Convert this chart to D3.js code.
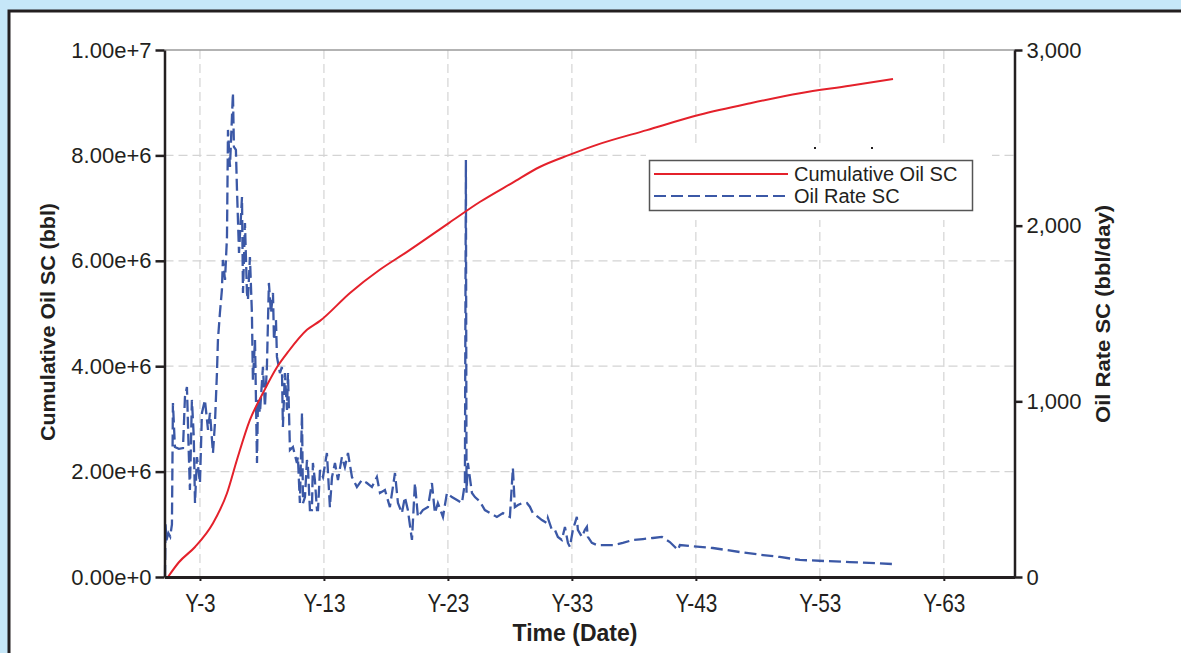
<!DOCTYPE html>
<html><head><meta charset="utf-8">
<script src="https://cdn.jsdelivr.net/npm/d3@7"></script>
<style>
html,body{margin:0;padding:0;background:#c6e7f8;}
svg{display:block;font-family:"Liberation Sans",Arial,Helvetica,sans-serif;}
</style></head>
<body>
<svg id="chart" width="1181" height="653"></svg>
<script>
// ---- data ----
const xTickYears = [3, 13, 23, 33, 43, 53, 63];
const leftTicks = [0, 2e6, 4e6, 6e6, 8e6, 1e7];
const rightTicks = [0, 1000, 2000, 3000];
const seriesNames = ["Cumulative Oil SC", "Oil Rate SC"];

const cumYears  = [0.42, 1.3, 2.6, 4.05, 5.18, 5.98, 7.03, 8.08, 9.21, 10.1, 11.63, 12.68, 15.1, 17.5, 19.7, 23.1, 25.6, 28.2, 30.4, 32.8, 35.0, 39.05, 43.3, 47.4, 51.4, 55.4, 58.9];
const cumValues = [0, 0.28e6, 0.57e6, 1.02e6, 1.59e6, 2.22e6, 2.98e6, 3.49e6, 3.98e6, 4.27e6, 4.69e6, 4.86e6, 5.39e6, 5.83e6, 6.17e6, 6.72e6, 7.12e6, 7.48e6, 7.78e6, 8.01e6, 8.20e6, 8.48e6, 8.77e6, 8.99e6, 9.18e6, 9.32e6, 9.45e6];

const rateYears = [0.18,0.22,0.30,0.45,0.60,0.74,0.82,0.98,1.3,1.63,1.79,1.95,2.1,2.19,2.35,2.5,2.60,2.76,3.00,3.16,3.40,3.65,3.81,4.05,4.21,4.37,4.45,4.61,4.77,4.85,5.02,5.18,5.26,5.42,5.58,5.66,5.74,5.90,5.98,6.15,6.39,6.47,6.63,6.79,6.87,7.03,7.19,7.27,7.44,7.60,7.68,7.84,8.08,8.24,8.40,8.56,8.73,8.89,8.97,9.13,9.21,9.45,9.61,9.69,9.85,10.02,10.10,10.26,10.50,10.82,10.90,11.06,11.23,11.31,11.47,11.63,11.71,11.87,12.03,12.11,12.27,12.44,12.52,12.68,12.92,13.24,13.48,13.65,13.89,14.13,14.45,14.69,14.94,15.26,15.66,16.06,16.47,16.87,17.27,17.52,17.92,18.32,18.73,18.97,19.29,19.53,19.77,20.10,20.34,20.58,20.98,21.39,21.71,21.95,22.19,22.60,22.92,23.32,23.73,24.13,24.37,24.45,24.50,24.61,24.94,25.18,25.58,25.98,26.39,26.95,27.44,28.00,28.24,28.40,28.65,28.97,29.37,29.61,29.85,30.26,30.58,30.98,31.06,31.39,31.63,31.87,32.19,32.44,32.68,32.84,33.08,33.40,33.48,33.81,34.05,34.21,34.29,34.61,35.02,36.31,37.11,37.92,38.73,39.53,40.26,40.90,41.31,41.55,41.71,42.52,44.37,46.55,48.42,49.77,51.39,55.42,58.81];
const rateValues = [0,300,210,250,230,300,990,740,730,734,1025,1082,700,495,1008,800,421,683,535,934,1008,837,934,706,877,1161,1349,1503,1634,1805,1691,1936,2545,2334,2619,2755,2448,2431,2220,1845,2163,1617,2015,1617,1577,1822,1503,1122,1349,649,1008,934,1196,968,1196,1674,1503,1617,1349,1463,1253,1161,1196,854,1161,951,1161,723,740,649,683,421,934,421,455,666,626,381,381,649,552,381,381,609,569,706,398,569,649,552,683,626,706,569,512,552,535,512,569,478,495,398,592,421,364,455,381,211,535,342,381,398,535,364,421,342,478,455,438,421,535,2374,480,649,478,455,430,381,364,342,364,342,620,398,410,420,421,400,364,342,324,307,336,268,268,228,211,285,194,171,268,342,268,228,268,285,228,194,182,182,194,211,216,222,228,199,171,154,182,176,165,142,125,114,97,85,74];

// ---- layout ----
const svg = d3.select("#chart");
const L = 164.5, R = 1014.5, T = 50, B = 577;
const x = d3.scaleLinear().domain([0.14, 68.7]).range([L, R]);
const yL = d3.scaleLinear().domain([0, 1e7]).range([B, T]);
const yR = d3.scaleLinear().domain([0, 3000]).range([B, T]);
const ink = "#231f20";

// panel
svg.append("rect").attr("x", 9).attr("y", 11).attr("width", 1200).attr("height", 700)
  .attr("fill", "#ffffff").attr("stroke", ink).attr("stroke-width", 3);

// gridlines
const grid = svg.append("g");
grid.selectAll(".vg").data(xTickYears).join("line")
  .attr("x1", d => x(d)).attr("x2", d => x(d)).attr("y1", T).attr("y2", B)
  .attr("stroke", "#d4d4d4").attr("stroke-width", 1.2).attr("stroke-dasharray", "9,5");
grid.selectAll(".hg").data(leftTicks.filter(d => d > 0 && d < 1e7)).join("line")
  .attr("x1", L).attr("x2", R).attr("y1", d => yL(d)).attr("y2", d => yL(d))
  .attr("stroke", "#d4d4d4").attr("stroke-width", 1.2).attr("stroke-dasharray", "9,5");
// top frame line
svg.append("line").attr("x1", L).attr("x2", R).attr("y1", T).attr("y2", T)
  .attr("stroke", "#9a9a9a").attr("stroke-width", 1.5);

// series
const cumData = cumYears.map((d, i) => [d, cumValues[i]]);
const rateData = rateYears.map((d, i) => [d, rateValues[i]]);
svg.append("path").datum(rateData)
  .attr("d", d3.line().x(d => x(d[0])).y(d => yR(d[1])))
  .attr("fill", "none").attr("stroke", "#3b58a6").attr("stroke-width", 2.3)
  .attr("stroke-dasharray", "12,5");
svg.append("path").datum(cumData)
  .attr("d", d3.line().curve(d3.curveMonotoneX).x(d => x(d[0])).y(d => yL(d[1])))
  .attr("fill", "none").attr("stroke", "#e4212b").attr("stroke-width", 2);

// axes
const axB = svg.append("g").attr("transform", `translate(0,${B})`)
  .call(d3.axisBottom(x).tickValues(xTickYears).tickFormat(d => "Y-" + d).tickSizeOuter(0).tickSizeInner(4).tickPadding(16));
axB.select(".domain").attr("stroke", ink).attr("stroke-width", 3);
axB.selectAll(".tick line").attr("stroke", ink).attr("stroke-width", 2);
axB.selectAll(".tick text").attr("font-size", 26).attr("fill", ink)
  .attr("transform", "scale(0.8,1)").attr("dy", "0.71em").attr("y", 17);

const axL = svg.append("g").attr("transform", `translate(${L},0)`)
  .call(d3.axisLeft(yL).tickValues(leftTicks).tickFormat(d3.format(".2e")).tickSizeOuter(0).tickSizeInner(9).tickPadding(4));
axL.select(".domain").attr("stroke", ink).attr("stroke-width", 2.5);
axL.selectAll(".tick line").attr("stroke", ink).attr("stroke-width", 2.5);
axL.selectAll(".tick text").attr("font-size", 22).attr("fill", ink);

const axR = svg.append("g").attr("transform", `translate(${R},0)`)
  .call(d3.axisRight(yR).tickValues(rightTicks).tickFormat(d3.format(",")).tickSizeOuter(0).tickSizeInner(8).tickPadding(4));
axR.select(".domain").attr("stroke", ink).attr("stroke-width", 2.5);
axR.selectAll(".tick line").attr("stroke", ink).attr("stroke-width", 2.5);
axR.selectAll(".tick text").attr("font-size", 22).attr("fill", ink);

// axis titles
svg.append("text").attr("x", 575).attr("y", 641).attr("text-anchor", "middle")
  .attr("font-size", 23).attr("font-weight", "bold").attr("fill", ink).text("Time (Date)");
svg.append("text").attr("transform", "translate(55,322) rotate(-90)").attr("text-anchor", "middle")
  .attr("font-size", 20).attr("font-weight", "bold").attr("fill", ink)
  .attr("textLength", 238).attr("lengthAdjust", "spacingAndGlyphs").text("Cumulative Oil SC (bbl)");
svg.append("text").attr("transform", "translate(1110,314) rotate(-90)").attr("text-anchor", "middle")
  .attr("font-size", 20).attr("font-weight", "bold").attr("fill", ink)
  .attr("textLength", 218).attr("lengthAdjust", "spacingAndGlyphs").text("Oil Rate SC (bbl/day)");

// legend
svg.append("rect").attr("x", 646).attr("y", 148).attr("width", 346).attr("height", 72).attr("fill", "#ffffff");
svg.append("rect").attr("x", 814).attr("y", 147).attr("width", 2).attr("height", 2).attr("fill", ink);
svg.append("rect").attr("x", 871).attr("y", 147).attr("width", 2).attr("height", 2).attr("fill", ink);
const lg = svg.append("g");
lg.append("rect").attr("x", 649.5).attr("y", 160.5).attr("width", 323).attr("height", 50)
  .attr("fill", "#ffffff").attr("stroke", "#555555").attr("stroke-width", 1.5);
const legStyles = [{c: "#e4212b", dash: null, y: 174}, {c: "#3b58a6", dash: "12,5", y: 196}];
seriesNames.forEach((n, i) => {
  lg.append("line").attr("x1", 654).attr("x2", 788).attr("y1", legStyles[i].y).attr("y2", legStyles[i].y)
    .attr("stroke", legStyles[i].c).attr("stroke-width", 2).attr("stroke-dasharray", legStyles[i].dash);
  lg.append("text").attr("x", 794).attr("y", legStyles[i].y + 7).attr("font-size", 20).attr("fill", ink).text(n);
});
</script>
</body></html>
